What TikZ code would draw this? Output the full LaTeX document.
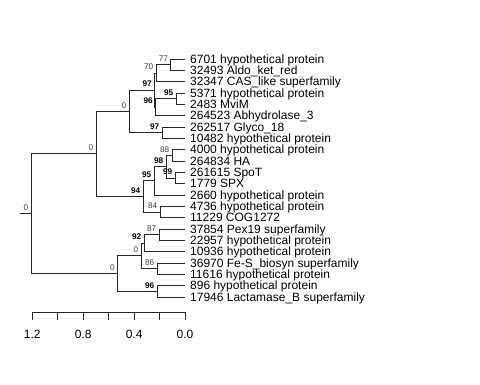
\documentclass[tikz,border=0pt]{standalone}
\usepackage{fontspec}
\setmainfont{Liberation Sans}
\begin{document}
\begin{tikzpicture}[
  x=1pt, y=-1pt,
  branch/.style={draw=black!85, line width=0.9pt},
  leaf/.style={anchor=west, inner xsep=5pt, inner ysep=0pt, text height=8.6pt,
    text depth=0pt, font=\fontsize{12}{12}\selectfont},
  boot/.style={anchor=south east, inner sep=0pt, xshift=-2.5pt, yshift=3pt,
    text=black!75, font=\fontsize{8.2}{9}\selectfont},
  bootb/.style={boot, text=black, font=\fontsize{8.2}{9}\selectfont\bfseries},
  axlbl/.style={inner sep=0pt, text height=8.6pt, text depth=0pt,
    font=\fontsize{12}{12}\selectfont}
]
  \useasboundingbox (0,0) rectangle (480,384);

  % leaves
  \foreach \lbl [count=\i from 0] in {6701 hypothetical protein, 32493 Aldo\_ket\_red,
    32347 CAS\_like superfamily, 5371 hypothetical protein, 2483 MviM,
    264523 Abhydrolase\_3, 262517 Glyco\_18, 10482 hypothetical protein,
    4000 hypothetical protein, 264834 HA, 261615 SpoT, 1779 SPX,
    2660 hypothetical protein, 4736 hypothetical protein, 11229 COG1272,
    37854 Pex19 superfamily, 22957 hypothetical protein, 10936 hypothetical protein,
    36970 Fe-S\_biosyn superfamily, 11616 hypothetical protein,
    896 hypothetical protein, 17946 Lactamase\_B superfamily}
    \node[leaf] (l\i) at (185, 59+11.333*\i) {\lbl};

  % internal nodes
  \coordinate (stub) at (20, 213.8);
  \coordinate (root) at (31, 213.8);
  \coordinate (nA) at (96, 153.9);
  \coordinate (nB) at (129, 111.4);
  \coordinate (n97a) at (154.5, 90.2);
  \coordinate (n70) at (156, 73.2);
  \coordinate (n77) at (170.7, 64.7);
  \coordinate (n96a) at (155.5, 107.2);
  \coordinate (n95a) at (176, 98.7);
  \coordinate (n97b) at (162, 132.7);
  \coordinate (n94) at (143, 196.4);
  \coordinate (n95b) at (154, 180.8);
  \coordinate (n98) at (166, 166.7);
  \coordinate (n88) at (172, 155.3);
  \coordinate (n99) at (175, 178);
  \coordinate (n84) at (160, 212);
  \coordinate (nC) at (117.3, 273.6);
  \coordinate (nD) at (141, 255.9);
  \coordinate (n92) at (144, 243.2);
  \coordinate (n87) at (159, 234.7);
  \coordinate (n86) at (157, 268.7);
  \coordinate (n96b) at (157, 291.3);

  % branches
  \draw[branch] (stub) -- (root);
  \foreach \p/\c in {root/nA, root/nC, nA/nB, nA/n94, nB/n97a, nB/n97b,
    n97a/n70, n97a/n96a, n70/n77, n70/l2.west, n77/l0.west, n77/l1.west,
    n96a/n95a, n96a/l5.west, n95a/l3.west, n95a/l4.west, n97b/l6.west, n97b/l7.west,
    n94/n95b, n94/n84, n95b/n98, n95b/l12.west, n98/n88, n98/n99,
    n88/l8.west, n88/l9.west, n99/l10.west, n99/l11.west, n84/l13.west, n84/l14.west,
    nC/nD, nC/n96b, nD/n92, nD/n86, n92/n87, n92/l17.west,
    n87/l15.west, n87/l16.west, n86/l18.west, n86/l19.west,
    n96b/l20.west, n96b/l21.west}
    \draw[branch] (\p) |- (\c);

  % support values
  \node[boot] (broot) at (root) {0};
  \node[boot] (bA) at (nA) {0};
  \node[boot] (bB) at (nB) {0};
  \node[bootb] (b97a) at (n97a) {97};
  \node[boot] (b70) at (n70) {70};
  \node[boot] (b77) at (n77) {77};
  \node[bootb] (b96a) at (n96a) {96};
  \node[bootb] (b95a) at (n95a) {95};
  \node[bootb] (b97b) at (n97b) {97};
  \node[bootb] (b94) at (n94) {94};
  \node[bootb] (b95b) at (n95b) {95};
  \node[bootb] (b98) at (n98) {98};
  \node[boot] (b88) at (n88) {88};
  \node[bootb] (b99) at (n99) {99};
  \node[boot] (b84) at (n84) {84};
  \node[boot] (bC) at (nC) {0};
  \node[boot] (bD) at (nD) {0};
  \node[bootb] (b92) at (n92) {92};
  \node[boot] (b87) at (n87) {87};
  \node[boot] (b86) at (n86) {86};
  \node[bootb] (b96b) at (n96b) {96};

  % scale axis
  \coordinate (axl) at (32.3, 312);
  \coordinate (axr) at (185, 312);
  \draw[branch] (axl) -- (axr);
  \foreach \v in {0,...,6}
    \draw[branch] (185-25.45*\v, 312) -- ++(0, 8);
  \foreach \v/\t in {0/0.0, 2/0.4, 4/0.8, 6/1.2}
    \node[axlbl] (ax\v) at (185-25.45*\v, 334) {\t};
\end{tikzpicture}
\end{document}
